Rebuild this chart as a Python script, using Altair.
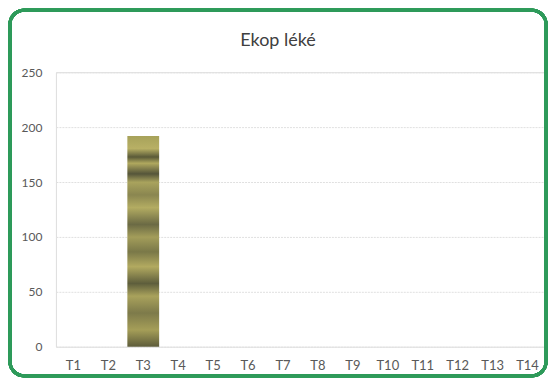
import altair as alt
import pandas as pd

categories = ["T1", "T2", "T3", "T4", "T5", "T6", "T7", "T8", "T9", "T10", "T11", "T12", "T13", "T14"]
values = [0, 0, 192, 0, 0, 0, 0, 0, 0, 0, 0, 0, 0, 0]
y_ticks = [0, 50, 100, 150, 200, 250]

df = pd.DataFrame({"cat": categories, "val": values})

stripe = {
    "gradient": "linear", "x1": 0, "y1": 0, "x2": 0, "y2": 1,
    "stops": [
        {"offset": 0.00, "color": "#a7a25a"},
        {"offset": 0.06, "color": "#b8b065"},
        {"offset": 0.10, "color": "#5a5a38"},
        {"offset": 0.13, "color": "#b0a85e"},
        {"offset": 0.18, "color": "#55553a"},
        {"offset": 0.22, "color": "#a9a35d"},
        {"offset": 0.28, "color": "#8a8650"},
        {"offset": 0.34, "color": "#b3ac62"},
        {"offset": 0.42, "color": "#6b6a44"},
        {"offset": 0.48, "color": "#a39d5a"},
        {"offset": 0.55, "color": "#7a7848"},
        {"offset": 0.62, "color": "#b2aa60"},
        {"offset": 0.70, "color": "#5e5e3c"},
        {"offset": 0.76, "color": "#a9a25c"},
        {"offset": 0.84, "color": "#7d7a4a"},
        {"offset": 0.92, "color": "#a59e58"},
        {"offset": 1.00, "color": "#5d5c3a"},
    ],
}

font = "Lato"

bars = alt.Chart(df).mark_bar(fill=stripe).encode(
    x=alt.X("cat:N", sort=categories, title=None,
            scale=alt.Scale(paddingInner=0.09, paddingOuter=0.045),
            axis=alt.Axis(labelAngle=0, domain=False, ticks=False, labelPadding=13,
                          labelColor="#595959", labelFontSize=13, labelFont=font)),
    y=alt.Y("val:Q", title=None,
            scale=alt.Scale(domain=[0, 250], nice=False),
            axis=alt.Axis(values=y_ticks, domain=False, ticks=False, labelPadding=14,
                          grid=True, gridColor="#e0e0e0", gridWidth=1, gridDash=[2, 1],
                          labelColor="#595959", labelFontSize=12, labelFont=font)),
)

frame = alt.Chart(df).mark_rect(
    filled=False, stroke="#2e9a5a", strokeWidth=3, cornerRadius=14
).encode(
    x=alt.value(-46), x2=alt.value(491), y=alt.value(-62), y2=alt.value(304)
)

chart = alt.layer(frame, bars).properties(
    width=490, height=275,
    title=alt.TitleParams("Ekop léké", font=font, fontSize=18, fontWeight="normal",
                          color="#404040", anchor="middle", frame="bounds", offset=-41),
).configure_view(stroke=None).configure(background="white", padding=0)

chart.save("out.html", embed_options={"renderer": "svg", "actions": False})
